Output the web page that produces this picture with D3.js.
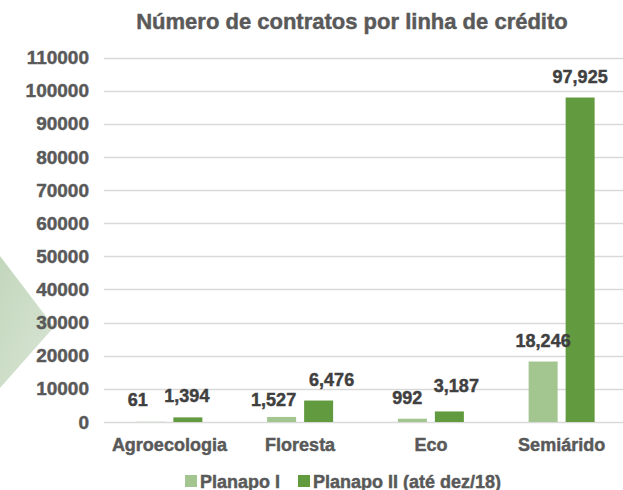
<!DOCTYPE html>
<html>
<head>
<meta charset="utf-8">
<script src="https://cdn.jsdelivr.net/npm/d3@7"></script>
<style>
  body { margin: 0; background: #fff; }
  svg { display: block; font-family: "Liberation Sans", Arial, sans-serif; font-weight: bold; }
  svg text { paint-order: stroke; stroke-width: 0.45px; }
</style>
</head>
<body>
<svg id="chart" width="623" height="490"></svg>
<script>
const categories = ["Agroecologia", "Floresta", "Eco", "Semiárido"];
const seriesNames = ["Planapo I", "Planapo II (até dez/18)"];
const planapoI  = [61, 1527, 992, 18246];
const planapoII = [1394, 6476, 3187, 97925];
const yTicks = [0, 10000, 20000, 30000, 40000, 50000, 60000, 70000, 80000, 90000, 100000, 110000];

// manual label shifts (Excel moved some labels to avoid overlaps)
const nudgeI  = [[-13, -1], [-8, 4], [-5, 0], [0, 0]];
const nudgeII = [[-1, 0], [13, 0], [7, -4], [0, 0]];

const colors = ["#a3c590", "#629a3f"];
const svg = d3.select("#chart");

const defs = svg.append("defs");
const grad = defs.append("linearGradient").attr("id", "tri").attr("x1", 0).attr("x2", 1).attr("y1", 0).attr("y2", 1);
grad.append("stop").attr("offset", "0%").attr("stop-color", "#c3d7bd");
grad.append("stop").attr("offset", "100%").attr("stop-color", "#d9e5d4");

// decorative triangle at the left
svg.append("path")
  .attr("d", "M0,256 L54,327 L0,388 Z")
  .attr("fill", "url(#tri)");

const y = d3.scaleLinear().domain([0, 110000]).range([422, 57.5]);
const x0 = d3.scaleBand().domain(categories).range([104, 627]);
const groupW = 66;
const x1 = d3.scaleBand().domain(seriesNames)
  .range([(x0.bandwidth() - groupW) / 2, (x0.bandwidth() + groupW) / 2])
  .paddingInner(8 / 37);

// title
svg.append("text")
  .attr("x", 352).attr("y", 29)
  .attr("text-anchor", "middle")
  .attr("fill", "#595959").attr("stroke", "#595959")
  .style("font-size", "22px")
  .text("Número de contratos por linha de crédito");

// gridlines
svg.append("g").selectAll("line").data(yTicks).join("line")
  .attr("x1", 104).attr("x2", 623)
  .attr("y1", d => Math.round(y(d)) + 0.5).attr("y2", d => Math.round(y(d)) + 0.5)
  .attr("stroke", "#d9d9d9").attr("stroke-width", 1.3);

// y axis labels
const yAxis = svg.append("g")
  .attr("transform", "translate(98,0)")
  .call(d3.axisLeft(y).tickValues(yTicks).tickFormat(d3.format("d")).tickSize(0).tickPadding(9));
yAxis.select(".domain").remove();
yAxis.selectAll("text")
  .attr("fill", "#595959").attr("stroke", "#595959")
  .style("font-size", "19px")
  .style("font-family", "'Liberation Sans', Arial, sans-serif")
  .style("font-weight", "bold");

// bars
const rows = categories.map((c, i) => ({ cat: c, vals: [planapoI[i], planapoII[i]], nudge: [nudgeI[i], nudgeII[i]] }));
const groups = svg.append("g").selectAll("g").data(rows).join("g")
  .attr("transform", d => `translate(${x0(d.cat)},0)`);

groups.selectAll("rect")
  .data(d => d.vals.map((v, k) => ({ s: seriesNames[k], v, k })))
  .join("rect")
  .attr("x", d => x1(d.s))
  .attr("width", x1.bandwidth())
  .attr("y", d => y(d.v))
  .attr("height", d => y(0) - y(d.v))
  .attr("fill", d => colors[d.k]);

// value labels
const fmt = d3.format(",");
groups.selectAll("text.val")
  .data(d => d.vals.map((v, k) => ({ s: seriesNames[k], v, k, n: d.nudge[k] })))
  .join("text")
  .attr("class", "val")
  .attr("x", d => x1(d.s) + x1.bandwidth() / 2 + d.n[0])
  .attr("y", d => y(d.v) - 15 + d.n[1])
  .attr("text-anchor", "middle")
  .attr("fill", "#404040").attr("stroke", "#404040")
  .style("font-size", "18px")
  .text(d => fmt(d.v));

// category labels
const xAxis = svg.append("g")
  .attr("transform", "translate(0,422)")
  .call(d3.axisBottom(x0).tickSize(0).tickPadding(16));
xAxis.select(".domain").remove();
xAxis.selectAll("text")
  .attr("fill", "#595959").attr("stroke", "#595959")
  .style("font-size", "18px")
  .style("font-family", "'Liberation Sans', Arial, sans-serif")
  .style("font-weight", "bold");

// legend
const legendX = [185, 298];
const legend = svg.append("g").selectAll("g").data(seriesNames).join("g")
  .attr("transform", (d, i) => `translate(${legendX[i]},475)`);
legend.append("rect").attr("width", 12).attr("height", 12).attr("fill", (d, i) => colors[i]);
legend.append("text")
  .attr("x", 15).attr("y", 12.5)
  .attr("fill", "#595959").attr("stroke", "#595959")
  .style("font-size", "18px")
  .text(d => d);
</script>
</body>
</html>
